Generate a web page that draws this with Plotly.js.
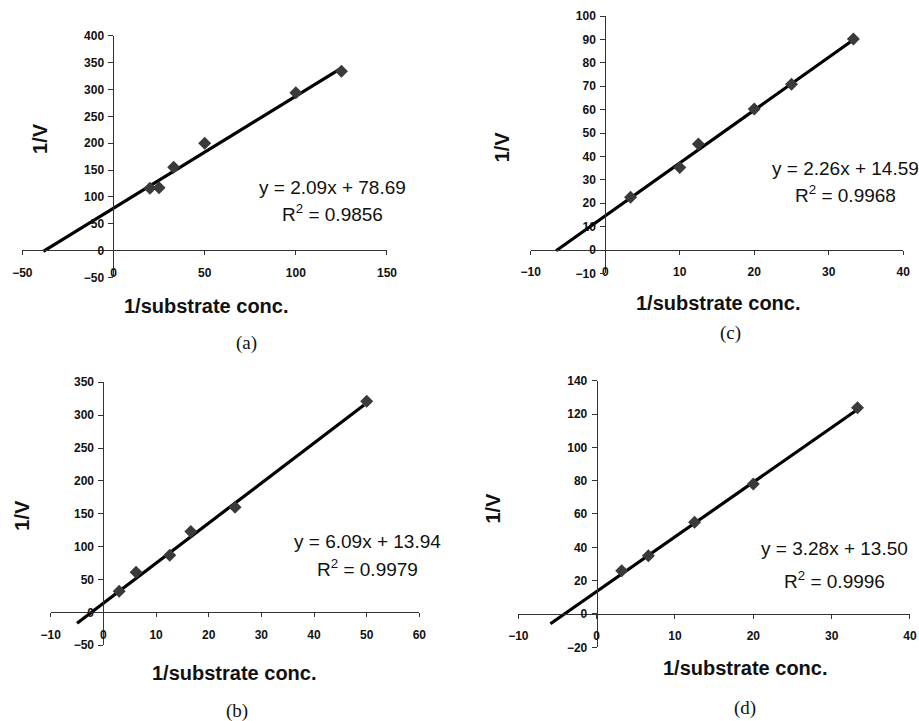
<!DOCTYPE html>
<html>
<head>
<meta charset="utf-8">
<script src="https://cdn.plot.ly/plotly-3.0.1.min.js"></script>
<style>html,body{margin:0;padding:0;background:#fff;}#chart{width:919px;height:721px;}</style>
</head>
<body>
<div id="chart"></div>
<script>
// ---- data ----
const panelNames = ["(a)", "(c)", "(b)", "(d)"];
const xA = [20, 25, 33, 50, 100, 125];
const yA = [116, 117, 155, 200, 294, 334];
const xC = [3.4, 10, 12.5, 20, 25, 33.3];
const yC = [22.5, 35.3, 45.3, 60.3, 70.8, 90.2];
const xB = [3, 6.2, 12.6, 16.6, 25, 50];
const yB = [32, 61, 87, 123, 160, 321];
const xD = [3.2, 6.6, 12.5, 20, 33.3];
const yD = [26, 35, 55, 78, 123.8];
const slopes = [2.09, 2.26, 6.09, 3.28];
const intercepts = [78.69, 14.59, 13.94, 13.50];
const fitStart = [-38.5, -6.6, -5, -5.9];
const fitEnd = [125, 33.5, 49.5, 33.3];
const eqTexts = ["y = 2.09x + 78.69", "y = 2.26x + 14.59", "y = 6.09x + 13.94", "y = 3.28x + 13.50"];
const r2Texts = ["R<sup>2</sup> = 0.9856", "R<sup>2</sup> = 0.9968", "R<sup>2</sup> = 0.9979", "R<sup>2</sup> = 0.9996"];
const xRanges = [[-50, 150], [-10, 40], [-10, 60], [-10, 40]];
const yRanges = [[-50, 400], [-10, 100], [-50, 350], [-20, 140]];
const xTicks = [50, 10, 10, 10];
const yTicks = [50, 10, 50, 20];
const xTitle = "1/substrate conc.";
const yTitle = "1/V";

// ---- layout geometry ----
const xDomains = [[0.0243, 0.4211], [0.5775, 0.9829], [0.0552, 0.4563], [0.5640, 0.9902]];
const yDomains = [[0.6154, 0.9501], [0.6208, 0.9778], [0.1051, 0.4698], [0.1022, 0.4720]];
const eqPos = [[120.3, 117.6, 69], [32.2, 35, 23.8], [50.2, 107.5, 67], [30.4, 39.4, 20.4]];
const yTitlePos = [[0.0435, 0.8086], [0.5459, 0.7966], [0.0236, 0.2857], [0.5368, 0.2950]];
const xTitlePos = [[0.2242, 0.5756], [0.7816, 0.5793], [0.2557, 0.0662], [0.8107, 0.0731]];
const labelPos = [[0.2677, 0.5246], [0.7951, 0.5377], [0.2579, 0.0138], [0.8107, 0.0176]];

const xs = [xA, xC, xB, xD];
const ys = [yA, yC, yB, yD];

const traces = [];
const layout = {
  width: 919, height: 721,
  margin: {l: 0, r: 0, t: 0, b: 0},
  paper_bgcolor: "#fff", plot_bgcolor: "rgba(0,0,0,0)",
  showlegend: false,
  annotations: []
};

const tickFont = {family: "Liberation Sans, Arial, sans-serif", size: 12, color: "#111", weight: "bold"};

for (let i = 0; i < 4; i++) {
  const sfx = i === 0 ? "" : String(i + 1);
  const xa = "x" + sfx, ya = "y" + sfx;
  // fit line
  const lx = [fitStart[i], fitEnd[i]];
  const ly = lx.map(v => slopes[i] * v + intercepts[i]);
  traces.push({x: lx, y: ly, xaxis: xa, yaxis: ya, mode: "lines",
    line: {color: "#000", width: 3.2}, hoverinfo: "skip"});
  traces.push({x: xs[i], y: ys[i], xaxis: xa, yaxis: ya, mode: "markers",
    marker: {symbol: "diamond", size: 10, color: "#3a3a3a"}});

  const xr = xRanges[i], yr = yRanges[i], xd = xDomains[i], yd = yDomains[i];
  const yPosPaper = yd[0] + (0 - yr[0]) / (yr[1] - yr[0]) * (yd[1] - yd[0]);
  const xPosPaper = xd[0] + (0 - xr[0]) / (xr[1] - xr[0]) * (xd[1] - xd[0]);

  layout["xaxis" + sfx] = {
    domain: xd, range: xr, autorange: false, dtick: xTicks[i], tick0: 0,
    anchor: "free", position: yPosPaper,
    showline: true, linecolor: "#333", linewidth: 1,
    showgrid: false, zeroline: false,
    ticks: "outside", ticklen: 4, tickcolor: "#333", tickwidth: 1,
    ticklabelstandoff: 7,
    tickfont: tickFont, fixedrange: true
  };
  layout["yaxis" + sfx] = {
    domain: yd, range: yr, autorange: false, dtick: yTicks[i], tick0: 0,
    anchor: "free", position: xPosPaper,
    showline: true, linecolor: "#333", linewidth: 1,
    showgrid: false, zeroline: false,
    ticks: "outside", ticklen: 5, tickcolor: "#333", tickwidth: 1,
    ticklabelstandoff: 2,
    tickfont: tickFont, fixedrange: true
  };

  const eqFont = {family: "Liberation Sans, Arial, sans-serif", size: 19, color: "#111"};
  layout.annotations.push({xref: xa, yref: ya, x: eqPos[i][0], y: eqPos[i][1],
    text: eqTexts[i], showarrow: false, font: eqFont, xanchor: "center", yanchor: "middle"});
  layout.annotations.push({xref: xa, yref: ya, x: eqPos[i][0], y: eqPos[i][2],
    text: r2Texts[i], showarrow: false, font: eqFont, xanchor: "center", yanchor: "middle"});

  const titleFont = {family: "Liberation Sans, Arial, sans-serif", size: 20, color: "#111", weight: "bold"};
  layout.annotations.push({xref: "paper", yref: "paper", x: yTitlePos[i][0], y: yTitlePos[i][1],
    text: yTitle, textangle: -90, showarrow: false, font: titleFont, xanchor: "center", yanchor: "middle"});
  layout.annotations.push({xref: "paper", yref: "paper", x: xTitlePos[i][0], y: xTitlePos[i][1],
    text: xTitle, showarrow: false, font: titleFont, xanchor: "center", yanchor: "middle"});
  layout.annotations.push({xref: "paper", yref: "paper", x: labelPos[i][0], y: labelPos[i][1],
    text: panelNames[i], showarrow: false,
    font: {family: "Liberation Serif, Times New Roman, serif", size: 19, color: "#111"},
    xanchor: "center", yanchor: "middle"});
}

Plotly.newPlot("chart", traces, layout, {displayModeBar: false, staticPlot: true});
</script>
</body>
</html>
